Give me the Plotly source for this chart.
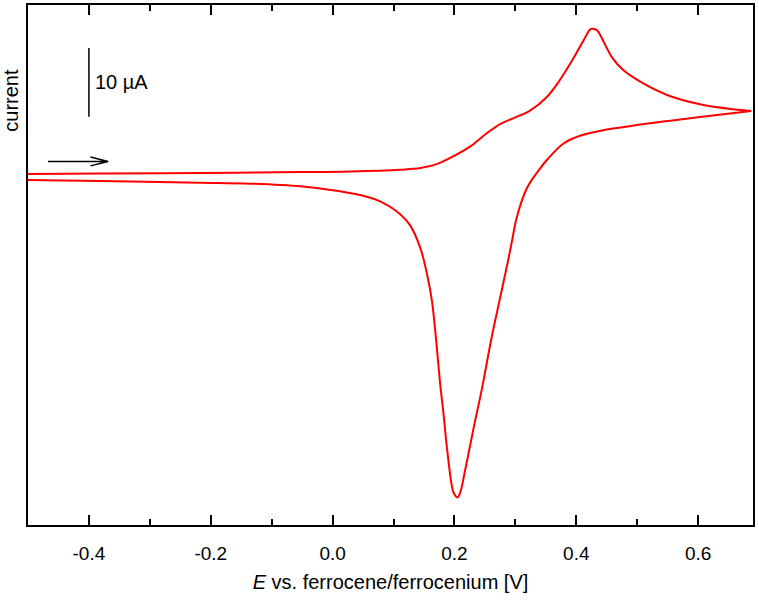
import plotly.graph_objects as go

# Forward scan (oxidation), potential in V vs Fc/Fc+, current in µA
E_fwd = [-0.500, -0.382, -0.217, -0.053, 0.029, 0.111, 0.144, 0.171, 0.198, 0.226,
         0.253, 0.275, 0.297, 0.324, 0.352, 0.373, 0.395, 0.412, 0.423, 0.427,
         0.434, 0.445, 0.458, 0.477, 0.505, 0.549, 0.603, 0.658, 0.687]
I_fwd = [-0.03, 0.04, 0.12, 0.26, 0.36, 0.61, 0.84, 1.42, 2.54, 3.99,
         5.91, 7.25, 8.12, 9.20, 11.23, 13.65, 16.78, 19.45, 21.04, 21.13,
         20.90, 19.20, 17.03, 15.10, 13.41, 11.48, 10.12, 9.39, 9.16]

# Reverse scan (reduction)
E_rev = [0.687, 0.603, 0.549, 0.505, 0.450, 0.406, 0.379, 0.352, 0.341, 0.319,
         0.302, 0.295, 0.289, 0.275, 0.261, 0.245, 0.231, 0.2175, 0.209, 0.205,
         0.1995, 0.196, 0.1875, 0.182, 0.1765, 0.170, 0.163, 0.155, 0.144, 0.127,
         0.105, 0.078, 0.056, 0.012, -0.053, -0.135, -0.217, -0.382, -0.500]
I_rev = [9.16, 8.26, 7.68, 7.17, 6.45, 5.54, 4.42, 2.06, 0.84, -2.06,
         -6.41, -9.49, -12.20, -18.00, -23.80, -31.28, -37.17, -43.12, -46.49, -47.07,
         -46.59, -45.54, -39.74, -34.90, -30.55, -24.28, -18.48, -14.61, -10.80, -7.46,
         -5.43, -3.99, -3.33, -2.54, -1.81, -1.42, -1.28, -1.04, -0.90]

tick_vals = [-0.4, -0.2, 0.0, 0.2, 0.4, 0.6]
tick_text = ["-0.4", "-0.2", "0.0", "0.2", "0.4", "0.6"]

x_range = [-0.5, 0.690]
y_range = [-51.09, 24.57]

# scale bar (10 µA) and scan-direction arrow, in data units
bar_x = -0.4
bar_y0, bar_y1 = 8.3, 18.3
arrow_x0, arrow_x1, arrow_y = -0.467, -0.3685, 1.81
head_dx, head_dy = 0.029, 0.65

FONT = "Liberation Sans, Arial, sans-serif"
CURVE = dict(color="#ff0000", width=2, shape="spline", smoothing=1.0)

fig = go.Figure()
fig.add_trace(go.Scatter(x=E_fwd, y=I_fwd, mode="lines", line=CURVE,
                         showlegend=False, hoverinfo="skip"))
fig.add_trace(go.Scatter(x=E_rev, y=I_rev, mode="lines", line=CURVE,
                         showlegend=False, hoverinfo="skip"))

fig.add_shape(type="line", xref="x", yref="y", x0=bar_x, x1=bar_x, y0=bar_y0, y1=bar_y1,
              line=dict(color="black", width=1.5))
fig.add_annotation(x=bar_x, y=(bar_y0 + bar_y1) / 2, xref="x", yref="y", text="10 µA",
                   showarrow=False, xanchor="left", yanchor="middle", xshift=4,
                   font=dict(family=FONT, size=20, color="black"))

path = (f"M {arrow_x0},{arrow_y} L {arrow_x1},{arrow_y} "
        f"M {arrow_x1 - head_dx},{arrow_y + head_dy} L {arrow_x1},{arrow_y} "
        f"L {arrow_x1 - head_dx},{arrow_y - head_dy}")
fig.add_shape(type="path", xref="x", yref="y", path=path, line=dict(color="black", width=1.5))

fig.add_annotation(x=-0.0234, y=0.816, xref="paper", yref="paper", text="current",
                   textangle=-90, showarrow=False, xanchor="center", yanchor="middle",
                   font=dict(family=FONT, size=20, color="black"))

fig.update_layout(
    width=759, height=600,
    margin=dict(l=28, r=6, t=3, b=75),
    paper_bgcolor="white", plot_bgcolor="white",
    font=dict(family=FONT, size=19, color="black"),
    xaxis=dict(range=x_range, tickmode="array", tickvals=tick_vals, ticktext=tick_text,
               ticks="inside", ticklen=10, tickwidth=1.5, tickcolor="black",
               ticklabelstandoff=10,
               showline=True, linecolor="black", linewidth=1.5, mirror="ticks",
               showgrid=False, zeroline=False,
               minor=dict(tickmode="linear", tick0=-0.5, dtick=0.1, ticks="inside",
                          ticklen=6, tickwidth=1.5, tickcolor="black", showgrid=False),
               tickfont=dict(family=FONT, size=19),
               title=dict(text="<i>E</i> vs. ferrocene/ferrocenium [V]",
                          font=dict(family=FONT, size=20), standoff=12)),
    yaxis=dict(range=y_range, showticklabels=False, ticks="", showline=True,
               linecolor="black", linewidth=1.5, mirror=True, showgrid=False, zeroline=False),
)

fig.write_html("out.html")
